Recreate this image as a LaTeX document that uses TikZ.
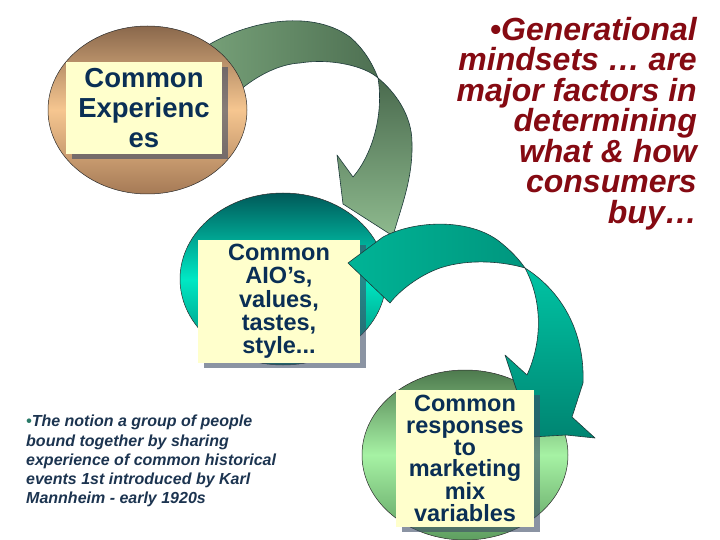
\documentclass[tikz,border=0pt]{standalone}
\usepackage{fontspec}
\setmainfont{Liberation Sans}
\usepackage{tikz}
\usetikzlibrary{shapes.geometric, shadows}

\definecolor{boxfill}{HTML}{FFFFCC}
\definecolor{boxshade}{HTML}{3E4C66}
\definecolor{boxtext}{HTML}{0A2F55}
\definecolor{mindred}{HTML}{850A12}
\definecolor{notetext}{HTML}{1C3450}
\definecolor{notedot}{HTML}{2A7A68}
\definecolor{rimline}{HTML}{2A2A2A}
\definecolor{ribbonline}{HTML}{1E3A3A}

\begin{document}
\begin{tikzpicture}[x=1pt, y=-1pt,
                blob/.style={ellipse, draw=rimline, line width=.5pt, inner sep=0pt}, % the three rings
                notebox/.style={rectangle, fill=boxfill, inner sep=0pt, align=center, text=boxtext,
                  drop shadow={shadow xshift=6pt, shadow yshift=-5pt, fill=boxshade, opacity=.6}}, % yellow labels
                ribbon/.style={draw=ribbonline, line width=.6pt, line join=round} % curved arrows
                ]
                \useasboundingbox (0,0) rectangle (720,540);

                \node[blob, minimum width=206pt, minimum height=172pt,
                  top color=teal!70!black, bottom color={rgb,255:red,0;green,128;blue,110},
                  middle color={rgb,255:red,0;green,232;blue,196}] (aioring) at (283,279) {};
                \node[notebox, minimum width=162pt, minimum height=123pt,
                  font=\fontsize{23.5}{23.3}\selectfont\bfseries] (aiobox) at (279,301.5)
                  {Common\\AIO’s,\\values,\\tastes,\\style...};
                \node[blob, minimum width=206pt, minimum height=170pt,
                  top color={rgb,255:red,78;green,122;blue,78}, bottom color={rgb,255:red,94;green,158;blue,96},
                  middle color={rgb,255:red,166;green,242;blue,164}] (respring) at (465,455) {};

                % first ribbon, brown ring to teal ring
                \path[ribbon, left color={rgb,255:red,118;green,160;blue,120}, right color={rgb,255:red,78;green,112;blue,82}]
                  (205,47) .. controls (245,22) and (310,8) .. (350,37)
                  .. controls (365,50) and (373,65) .. (378,78)
                  .. controls (365,66) and (330,58) .. (300,63)
                  .. controls (280,64) and (258,75) .. (240,90) -- cycle;
                \path[ribbon, top color={rgb,255:red,74;green,106;blue,78}, bottom color={rgb,255:red,142;green,186;blue,142}]
                  (378,78) .. controls (395,92) and (412,115) .. (412,143)
                  .. controls (413,180) and (400,210) .. (393,236) -- (343,204) -- (337,155) -- (353,177)
                  .. controls (372,155) and (384,115) .. (378,78) -- cycle;

                % second ribbon, teal ring to green ring
                \path[ribbon, left color={rgb,255:red,0;green,180;blue,150}, right color={rgb,255:red,0;green,150;blue,126}]
                  (348,263) -- (383,237) .. controls (415,220) and (470,218) .. (500,242)
                  .. controls (510,250) and (518,258) .. (525,268)
                  .. controls (505,262) and (470,258) .. (440,268)
                  .. controls (420,275) and (400,290) .. (390,303) -- cycle;
                \path[ribbon, top color={rgb,255:red,0;green,196;blue,164}, bottom color={rgb,255:red,0;green,133;blue,114}]
                  (525,268) .. controls (560,290) and (585,330) .. (583,383) -- (572,417) -- (595,438)
                  -- (566,435) -- (532,437) -- (505,355) -- (527,375)
                  .. controls (543,340) and (542,300) .. (525,268) -- cycle;

                \node[blob, minimum width=199pt, minimum height=168pt,
                  top color={rgb,255:red,138;green,104;blue,76}, bottom color={rgb,255:red,165;green,122;blue,86},
                  middle color={rgb,255:red,246;green,198;blue,144}] (expring) at (147.5,110) {};
                \node[notebox, minimum width=156pt, minimum height=92pt,
                  font=\fontsize{27.5}{30}\selectfont\bfseries] (expbox) at (144,108)
                  {Common\\Experienc\\es};
                \node[notebox, minimum width=138pt, minimum height=137pt,
                  font=\fontsize{23.5}{21.7}\selectfont\bfseries] (respbox) at (465,458.5)
                  {Common\\responses\\to\\marketing\\mix\\variables};

                \node[anchor=north east, align=right, inner sep=0pt, text=mindred,
                  font=\fontsize{32}{30.5}\selectfont\bfseries\itshape] (mindtext) at (697,16.7)
                  {•Generational\\mindsets … are\\major factors in\\determining\\what \& how\\consumers\\buy…};
                \node[anchor=north west, align=left, inner sep=0pt, text=notetext,
                  font=\fontsize{16}{19.3}\selectfont\bfseries\itshape] (notetext) at (26,415)
                  {{\color{notedot}•}The notion a group of people\\bound together by sharing\\experience of common historical\\events 1st introduced by Karl\\Mannheim - early 1920s};
            \end{tikzpicture}
\end{document}
